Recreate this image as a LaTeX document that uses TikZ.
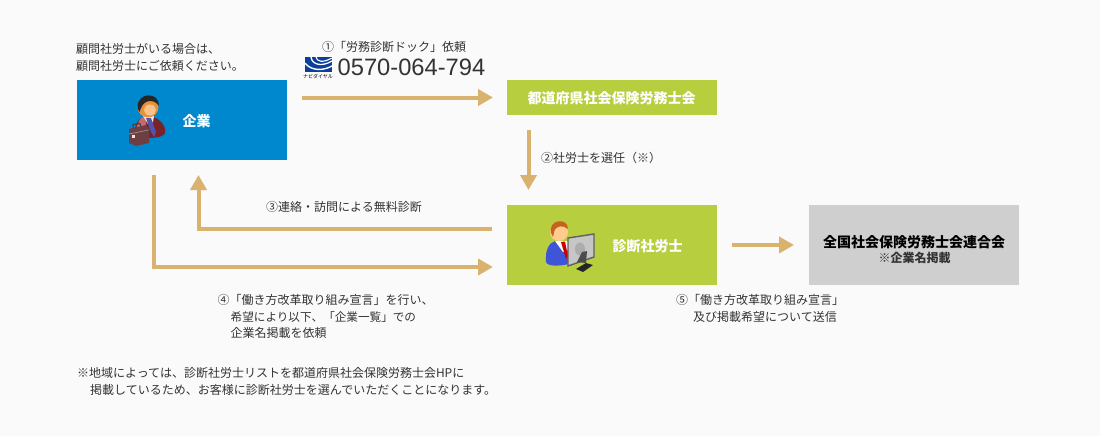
\documentclass[tikz,border=0pt]{standalone}
\usepackage{fontspec}
\setmainfont{Noto Sans CJK JP}
\newfontfamily\latinfont{Liberation Sans}
\usetikzlibrary{arrows.meta,calc}
\definecolor{bgc}{HTML}{FAFAFA}
\definecolor{bluebox}{HTML}{0088CE}
\definecolor{greenbox}{HTML}{B7CF3F}
\definecolor{greybox}{HTML}{CFCFCF}
\definecolor{arrowc}{HTML}{D9B26F}
\definecolor{textc}{HTML}{333333}
\definecolor{navib}{HTML}{0B3F9A}
\definecolor{suitred}{HTML}{A8323A}
\definecolor{suitlight}{HTML}{C9686A}
\definecolor{casec}{HTML}{6E3F42}
\definecolor{skinc}{HTML}{E8903C}
\definecolor{skinl}{HTML}{FFD9A8}
\definecolor{suitblue}{HTML}{3F55D8}
\definecolor{hairc}{HTML}{C8601E}
\tikzset{
  x=1pt,y=-1pt,
  box/.style={anchor=north west,inner sep=0pt,outer sep=0pt,minimum width=#1},
  boxtext/.style={font=\fontsize{14}{16}\selectfont\bfseries,text=white,inner sep=0pt},
  note/.style={anchor=north west,inner sep=0pt,align=left,text=textc,font=\fontsize{12}{16.3}\selectfont},
  flow/.style={draw=arrowc,line width=4pt,-{Triangle[length=15pt,width=16pt]}},
}
\begin{document}
\begin{tikzpicture}
\useasboundingbox (0,0) rectangle (1100,436);
\fill[bgc] (0,0) rectangle (1100,436);

% boxes
\node[box=210pt,minimum height=80pt,fill=bluebox] (kigyo) at (77,80) {};
\node[box=210pt,minimum height=35pt,fill=greenbox] (kai) at (507,80) {};
\node[box=210pt,minimum height=80pt,fill=greenbox] (shindan) at (507,205) {};
\node[box=210pt,minimum height=80pt,fill=greybox] (rengo) at (809,205) {};

\node[boxtext] (kigyolabel) at (196.5,121) {企業};
\node[boxtext] (kailabel) at (611.5,98) {都道府県社会保険労務士会};
\node[boxtext] (shindanlabel) at (647.5,246) {診断社労士};
\node[anchor=center,inner sep=0pt,align=center,text=black,font=\fontsize{14}{16}\selectfont\bfseries] (rengolabel) at (914,242) {全国社会保険労務士会連合会};
\node[anchor=center,inner sep=0pt,text=textc,font=\fontsize{12}{14}\selectfont\bfseries] (rengosub) at (914.5,257.5) {※企業名掲載};

% connectors
\coordinate (a1s) at (302,97.5);
\coordinate (a1e) at (493,97.5);
\draw[flow] (a1s) -- (a1e);
\coordinate (a2s) at (528.5,130);
\coordinate (a2e) at (528.5,190);
\draw[flow] (a2s) -- (a2e);
\coordinate (a3s) at (492,229);
\coordinate (a3m) at (198.5,229);
\coordinate (a3e) at (198.5,175);
\draw[flow] (a3s) -- (a3m) -- (a3e);
\coordinate (a4s) at (154,175);
\coordinate (a4m) at (154,267);
\coordinate (a4e) at (493,267);
\draw[flow] (a4s) -- (a4m) -- (a4e);
\coordinate (a5s) at (732,245);
\coordinate (a5e) at (794,245);
\draw[flow] (a5s) -- (a5e);

% texts
\node[note] (t0) at (76,43.5) {顧問社労士がいる場合は、\\顧問社労士にご依頼ください。};
\node[note,anchor=center] (t1) at (394,47) {①「労務診断ドック」依頼};
\node[anchor=west,inner sep=0pt,text=textc,font=\latinfont\fontsize{23.7}{26}\selectfont] (tel) at (337.5,67.5) {0570-064-794};
\node[note,anchor=west] (t2) at (541,157.5) {②社労士を選任（※）};
\node[note,anchor=center] (t3) at (344,206.5) {③連絡・訪問による無料診断};
\node[note] (t4) at (217.5,294.5) {④「働き方改革取り組み宣言」を行い、\\\hspace*{13pt}{\fontsize{11.6}{16.3}\selectfont 希望により以下、「企業一覧」での}\\\hspace*{13pt}企業名掲載を依頼};
\node[note] (t5) at (676,294.5) {⑤「働き方改革取り組み宣言」\\\hspace*{17pt}及び掲載希望について送信};
\node[note] (t6) at (77,367.5) {※地域によっては、診断社労士リストを都道府県社会保険労務士会HPに\\\hspace*{13pt}掲載しているため、お客様に診断社労士を選んでいただくことになります。};

% navi dial logo
\begin{scope}
\clip (305,57) rectangle (332,72);
\fill[navib] (305,57) rectangle (332,72);
\draw[white,line width=1.3pt] (311,57) .. controls (312,65) and (322,67) .. (332,61);
\draw[white,line width=1.1pt] (316,57) .. controls (317,62) and (323,63) .. (332,58);
\draw[white,line width=1.4pt] (305,63) .. controls (311,71) and (323,71) .. (332,66);
\end{scope}
\node[anchor=center,inner sep=0pt,text=black,font=\fontsize{5}{5}\selectfont] (navi) at (318,76.5) {ナビダイヤル};

% businessman icon
\fill[suitred!70!black] (135,137) .. controls (133,124) and (140,116) .. (148,116) .. controls (158,116) and (167,126) .. (165,133) .. controls (163,138) and (150,139) .. (135,137) -- cycle;
\fill[suitlight] (141,118) .. controls (138,122) and (136,128) .. (136,132) -- (146,130) -- (146,116) -- cycle;
\fill[white!85!gray] (143,116) -- (154,116) -- (153,122) -- (148,124) -- cycle;
\fill[blue!35!gray] (146,118) -- (151,118) -- (156,132) -- (154,137) -- (150,130) -- cycle;
\fill[skinc] (148,107) circle (10.5);
\fill[skinl!70!skinc] (150,110) ellipse (6 and 5.5);
\fill[black!85] (137.6,108) .. controls (136,92) and (160,91) .. (158.6,106) .. controls (156,100) and (145,98) .. (141,108) -- (139.5,112) -- cycle;
\fill[casec] (129,129) -- (146,125) -- (149,129) -- (149,143) -- (136,146) -- (129,143) -- cycle;
\draw[black!75,line width=1pt] (133,128) -- (133,124.5) -- (140,123.5) -- (141,126.5);
\draw[casec!60!white,line width=.7pt] (129,134) -- (148.5,130);
\fill[white!80!brown] (132,135) rectangle (134.5,137.5);

% consultant icon
\fill[suitblue] (546,262) .. controls (545,250) and (549,243) .. (555,241) -- (569,241) -- (569,264) .. controls (560,266) and (548,267) .. (546,262) -- cycle;
\fill[white] (555,241) -- (569,241) -- (569,250) -- (563,252) -- cycle;
\fill[red!80!black] (561,242) -- (565,241.5) -- (568,256) -- (566,259) -- cycle;
\fill[skinl!85!orange] (559,232) circle (9);
\fill[hairc] (551,233) .. controls (548,219) and (568,217) .. (568,229) .. controls (563,225) and (556,225) .. (554,232) -- (553,237) -- cycle;
% monitor
\fill[gray!45] (568,238) -- (594,234) -- (594,257) -- (568,266) -- cycle;
\draw[gray!75!black,line width=1.4pt] (568,238) -- (594,234) -- (594,257) -- (568,266) -- cycle;
\fill[gray!65] (580,249) ellipse (5 and 6.5);
\fill[gray!60!black] (577,262) -- (582,252) -- (587,251) -- (586,263) -- cycle;
\fill[gray!30!black] (576,269) -- (586,263) -- (593,265) -- (583,272) -- cycle;
\end{tikzpicture}
\end{document}
